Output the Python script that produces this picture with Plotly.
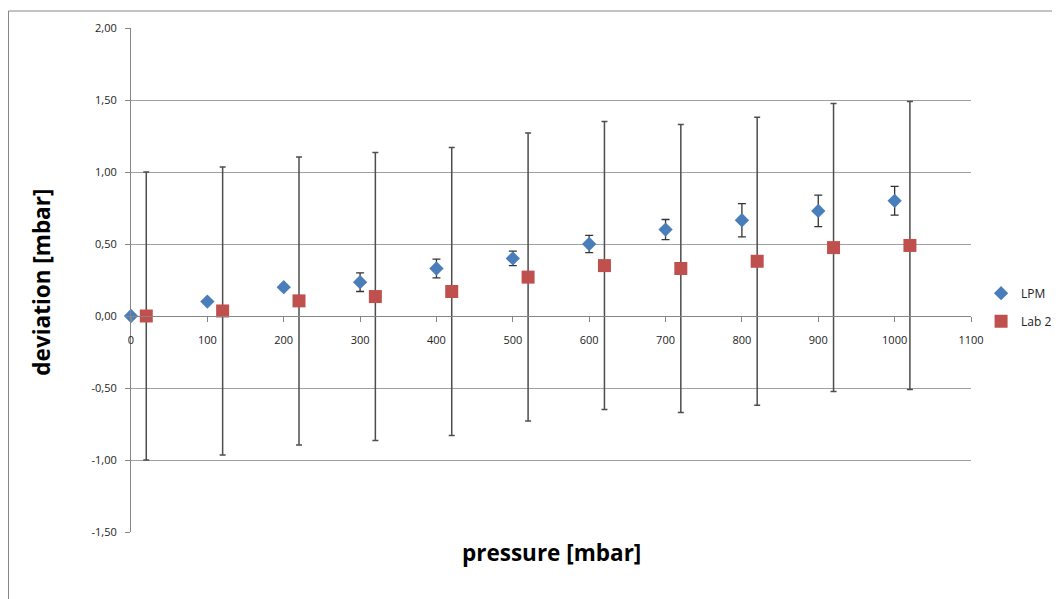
import plotly.graph_objects as go

# Data
lpm_x = [0, 100, 200, 300, 400, 500, 600, 700, 800, 900, 1000]
lpm_y = [0.00, 0.10, 0.20, 0.235, 0.33, 0.40, 0.50, 0.60, 0.665, 0.73, 0.80]
lpm_err = [0.0, 0.0, 0.015, 0.065, 0.065, 0.05, 0.06, 0.07, 0.115, 0.11, 0.10]

lab2_x = [20, 120, 220, 320, 420, 520, 620, 720, 820, 920, 1020]
lab2_y = [0.00, 0.035, 0.105, 0.135, 0.17, 0.27, 0.35, 0.33, 0.38, 0.475, 0.49]
lab2_err = [1.0] * 11

x_ticks = list(range(0, 1101, 100))
y_ticks = [2.0, 1.5, 1.0, 0.5, 0.0, -0.5, -1.0, -1.5]
y_ticktext = ["2,00", "1,50", "1,00", "0,50", "0,00", "-0,50", "-1,00", "-1,50"]

fig = go.Figure()
fig.add_trace(go.Scatter(
    x=lpm_x, y=lpm_y, mode="markers", name="LPM", legendgroup="lpm",
    marker=dict(symbol="diamond", size=11, color="#4A7EBB"),
    error_y=dict(type="data", array=lpm_err, visible=True, color="#333333", thickness=1.3, width=4),
    cliponaxis=False,
))
fig.add_trace(go.Scatter(
    x=lab2_x, y=lab2_y, mode="markers", name="Lab 2", legendgroup="lab2",
    marker=dict(symbol="square", size=13, color="#C0504D"),
    error_y=dict(type="data", array=lab2_err, visible=True, color="#4d4d4d", thickness=1.5, width=3),
    cliponaxis=False,
))

ymin, ymax = -1.5, 2.0
fig.update_layout(
    width=1052, height=591,
    margin=dict(l=123, r=89, t=20, b=67, autoexpand=False),
    paper_bgcolor="white", plot_bgcolor="white",
    font=dict(family="Open Sans, Liberation Sans, sans-serif", color="#333333", size=11),
    showlegend=True,
    legend=dict(x=1.012, y=0.446, xanchor="left", yanchor="middle",
                font=dict(size=12, color="#222222"), tracegroupgap=9,
                bgcolor="rgba(0,0,0,0)"),
    xaxis=dict(
        range=[0, 1100], tickvals=x_ticks, ticktext=[str(v) for v in x_ticks],
        showgrid=False, zeroline=False, showline=True, linecolor="#868686", linewidth=1,
        ticks="outside", ticklen=5, tickcolor="#868686", automargin=False,
        anchor="free", position=(0 - ymin) / (ymax - ymin),
        ticklabelstandoff=9,
        tickfont=dict(size=11, color="#222222"),
    ),
    yaxis=dict(
        range=[ymin, ymax], tickvals=y_ticks, ticktext=y_ticktext,
        showgrid=True, gridcolor="#a0a0a0", gridwidth=1,
        zeroline=False, showline=True, linecolor="#868686", linewidth=1,
        ticks="outside", ticklen=5, tickcolor="#868686", automargin=False,
        ticklabelstandoff=6,
        domain=[0, 1], tickfont=dict(size=11, color="#222222"),
    ),
    annotations=[
        dict(text="<b>pressure [mbar]</b>", xref="paper", yref="paper",
             x=0.5, y=-0.0397, xanchor="center", yanchor="middle", showarrow=False,
             font=dict(size=22.5, color="black")),
        dict(text="<b>deviation [mbar]</b>", xref="paper", yref="paper",
             x=-0.107, y=0.495, xanchor="center", yanchor="middle", showarrow=False,
             textangle=-90, font=dict(size=22.5, color="black")),
    ],
    shapes=[
        dict(type="rect", xref="paper", yref="paper",
             x0=-0.1458, x1=1.3, y0=-0.3, y1=1.0337,
             line=dict(color="#868686", width=1), fillcolor="rgba(0,0,0,0)", layer="below"),
    ],
)

fig.write_html("out.html")
